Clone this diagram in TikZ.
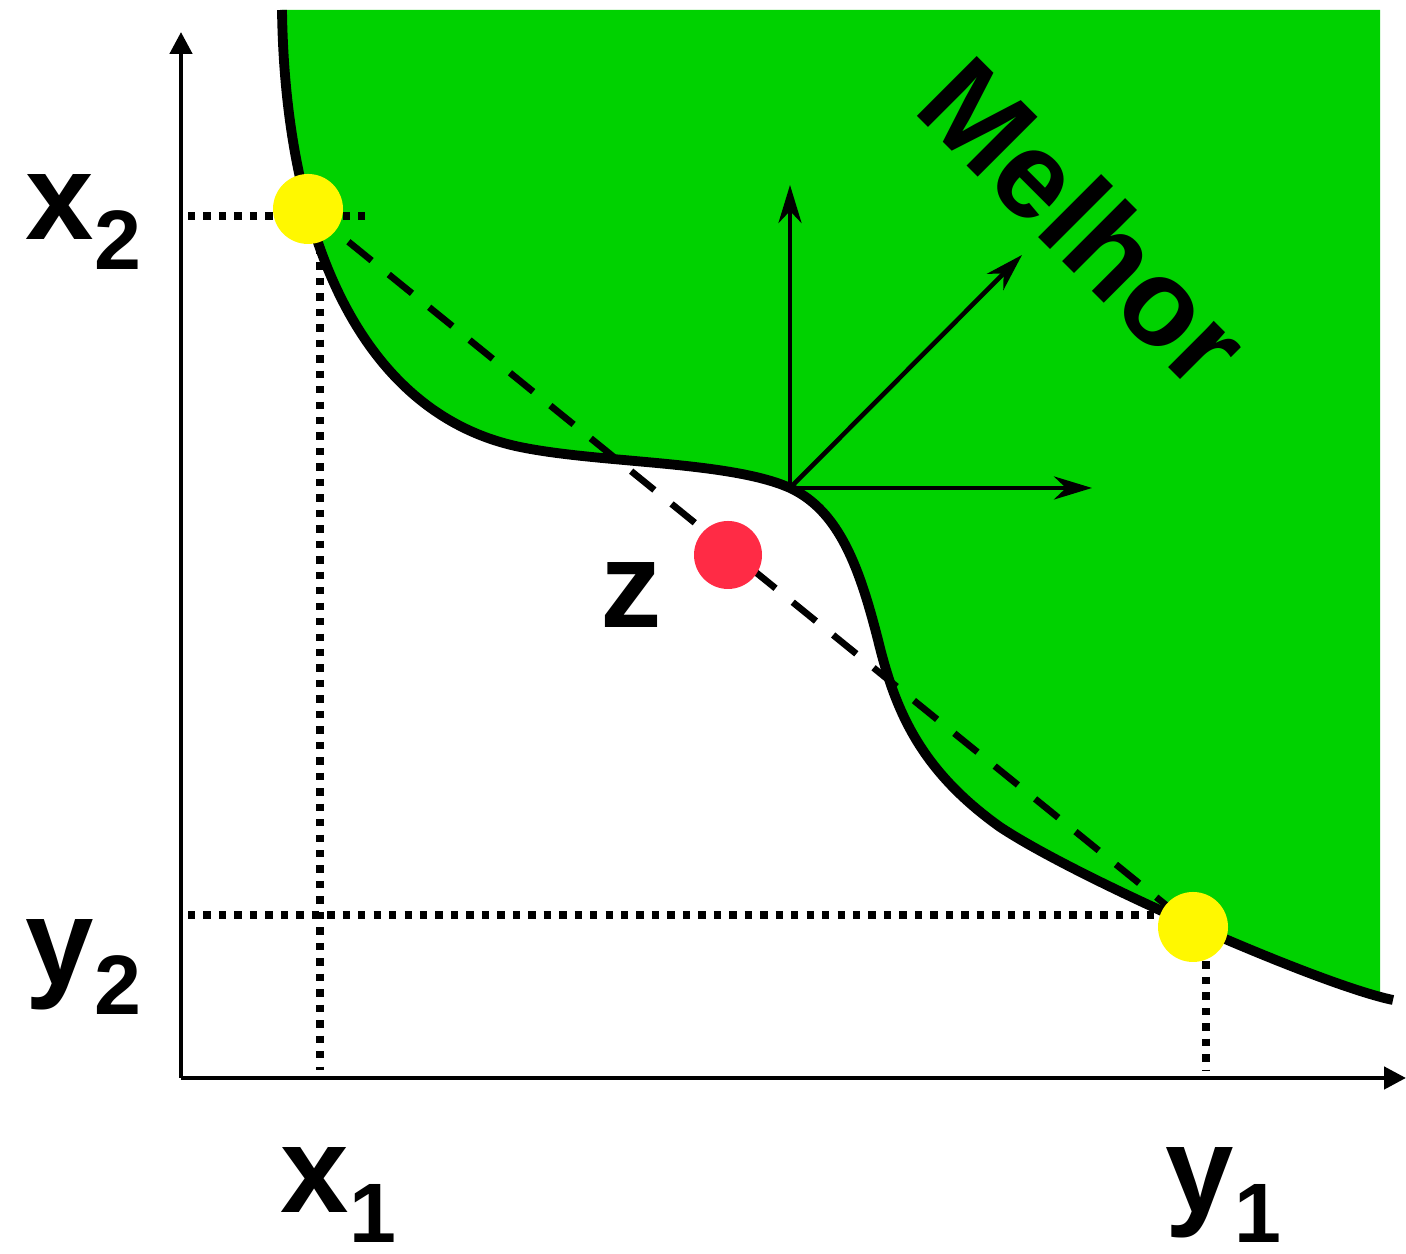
\documentclass[tikz,border=0pt]{standalone}
\usepackage{fontspec}
\setmainfont{Liberation Sans}
\usetikzlibrary{arrows.meta}
\definecolor{regiongreen}{RGB}{0,210,0}
\definecolor{ptyellow}{RGB}{255,248,0}
\definecolor{ptred}{RGB}{255,43,69}
\newcommand{\lowidx}[1]{\raisebox{-0.3cm}{\fontsize{24}{24}\selectfont #1}}

\begin{document}
\begin{tikzpicture}[lbl/.style={font=\fontsize{35}{42}\selectfont\bfseries, inner sep=0pt, anchor=base west}, dot/.style={circle, inner sep=0pt, minimum size=0.70cm}, guide/.style={line width=2.1pt, dash pattern=on 2.1pt off 2.3pt}, dir/.style={line width=1.3pt, -{Stealth[length=0.38cm, width=0.23cm, inset=0.12cm]}}]
	\useasboundingbox (0,0) rectangle (14.06,12.54);
	% front and the better region
	\begin{scope}
		\clip (0,0) rectangle (13.80,12.44);
		\fill[regiongreen] (2.82,12.44) .. controls (2.85,10.20) and (3.60,8.40) .. (5.20,8.07) .. controls (6.00,7.905) and (7.30,7.93) .. (7.90,7.66) .. controls (8.40,7.43) and (8.60,6.84) .. (8.78,6.14) .. controls (8.95,5.44) and (9.20,4.84) .. (10.00,4.27) .. controls (10.80,3.74) and (13.20,2.69) .. (13.93,2.54) -- (13.93,12.44) -- cycle;
	\end{scope}
	\draw[line width=2.8pt] (2.82,12.44) .. controls (2.85,10.20) and (3.60,8.40) .. (5.20,8.07) .. controls (6.00,7.905) and (7.30,7.93) .. (7.90,7.66) .. controls (8.40,7.43) and (8.60,6.84) .. (8.78,6.14) .. controls (8.95,5.44) and (9.20,4.84) .. (10.00,4.27) .. controls (10.80,3.74) and (13.20,2.69) .. (13.93,2.54);
	% axes
	\coordinate (O) at (1.81,1.76); \coordinate (ytop) at (1.81,12.22); \coordinate (xend) at (14.06,1.76);
	\draw[line width=1.3pt, -{Triangle[length=0.22cm, width=0.22cm]}] (O) -- (ytop);
	\draw[line width=1.3pt, -{Triangle[length=0.22cm, width=0.22cm]}] (O) -- (xend);
	% points
	\coordinate (pA) at (3.08,10.45); \coordinate (pB) at (11.93,3.27); \coordinate (pZ) at (7.28,6.99);
	\draw[guide] (1.88,10.38) -- (3.65,10.38);
	\draw[guide] (3.20,10.38) -- (3.20,1.84);
	\draw[guide] (1.88,3.39) -- (11.70,3.39);
	\draw[guide] (12.06,3.39) -- (12.06,1.84);
	\draw[line width=1.9pt, dash pattern=on 8.5pt off 6.3pt] (pA) -- (pB);
	\node[dot, fill=ptyellow] (a) at (pA) {};
	\node[dot, fill=ptyellow] (b) at (pB) {};
	\node[dot, fill=ptred, minimum size=0.68cm] (zpt) at (pZ) {};
	% directions of improvement
	\coordinate (c) at (7.90,7.66);
	\coordinate (up) at (7.90,10.69); \coordinate (diag) at (10.22,9.99); \coordinate (right) at (10.92,7.66);
	\foreach \t in {up, diag, right} {\draw[dir] (c) -- (\t);}
	% labels
	\node[lbl] (lx2) at (0.25,10.14) {x\lowidx{2}};
	\node[lbl] (ly2) at (0.25,2.69) {y\lowidx{2}};
	\node[lbl] (lx1) at (2.80,0.41) {x\lowidx{1}};
	\node[lbl] (ly1) at (11.65,0.41) {y\lowidx{1}};
	\node[lbl] (lz) at (6.00,6.26) {z};
	\node[lbl, anchor=base, rotate=-45] (better) at (10.54,10.01) {Melhor};
\end{tikzpicture}
\end{document}
